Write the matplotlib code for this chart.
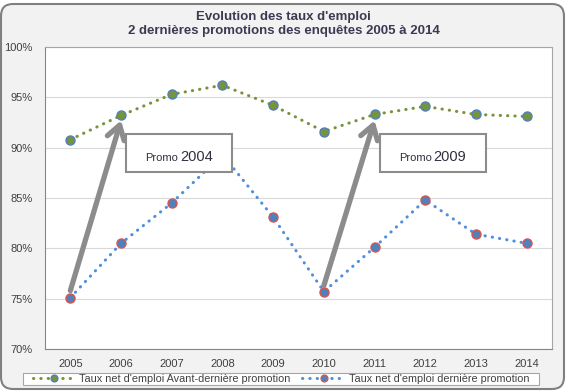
import numpy as np
import matplotlib.pyplot as plt
from matplotlib.patches import FancyBboxPatch, Rectangle
from matplotlib.transforms import IdentityTransform

######### Data ################################
years = [2005, 2006, 2007, 2008, 2009, 2010, 2011, 2012, 2013, 2014]
avant_derniere = [90.8, 93.2, 95.3, 96.2, 94.2, 91.6, 93.3, 94.1, 93.3, 93.1]
derniere = [75.1, 80.5, 84.5, 89.3, 83.1, 75.7, 80.1, 84.8, 81.4, 80.5]
y_ticks = [70, 75, 80, 85, 90, 95, 100]
y_labels = ["%d%%" % v for v in y_ticks]
title = "Evolution des taux d'emploi\n2 dernières promotions des enquêtes 2005 à 2014"
label_avant = "Taux net d'emploi Avant-dernière promotion"
label_der = "Taux net d'emploi dernière promotion"
# promo call-outs : (label, arrow tail year, tail value, head year, head value)
promos = [("2004", 2005, 75.8, 2006, 92.7),
          ("2009", 2010, 76.3, 2011, 92.7)]
###############################################

green = '#77933c'
blue = '#4f8fdf'
dark = '#3c3a52'
arrow_gray = '#8c8c8c'
plt.rcParams['font.family'] = ['Liberation Sans', 'DejaVu Sans']

fig = plt.figure(figsize=(5.7, 3.92), dpi=100, facecolor='white')

# rounded chart frame
frame = FancyBboxPatch((1, 3), 563, 385, boxstyle='round,pad=0,rounding_size=12',
                       transform=IdentityTransform(), facecolor='#f2f2f2',
                       edgecolor='#808080', lw=1.5, zorder=-5)
fig.patches.append(frame)
# legend box
fig.patches.append(Rectangle((23, 7), 516, 12, transform=IdentityTransform(),
                             facecolor='white', edgecolor='#a6a6a6', lw=0.8,
                             zorder=-4))

ax = fig.add_axes([45/570, 1-349/392, (552-45)/570, (349-47)/392])
ax.set_facecolor('white')
ax.set_zorder(1)

dots = (0, (0.1, 2.3))
ax.plot(years, avant_derniere, color=green, lw=2.2, linestyle=dots,
        dash_capstyle='round', marker='o', ms=6.5, mfc=green, mec='#4f81bd',
        mew=1.0, label=label_avant, zorder=4)
ax.plot(years, derniere, color=blue, lw=2.2, linestyle=dots,
        dash_capstyle='round', marker='o', ms=6.5, mfc='#4f81bd', mec='#d9534f',
        mew=1.0, label=label_der, zorder=4)

ax.set_xlim(2004.5, 2014.5)
ax.set_ylim(70, 100)
ax.set_xticks(years)
ax.set_xticklabels([str(y) for y in years], fontsize=8, color='#404040')
ax.set_yticks(y_ticks)
ax.set_yticklabels(y_labels, fontsize=8, color='#404040')
ax.tick_params(length=0)
ax.tick_params(axis='y', pad=9)
ax.tick_params(axis='x', pad=7)
ax.grid(axis='y', color='#d9d9d9', lw=0.8)
ax.set_axisbelow(True)
for side, sp in ax.spines.items():
    sp.set_color('#a6a6a6' if side in ('top', 'right') else '#868686')
    sp.set_linewidth(0.8)

# arrows and boxes
for lab, x0, y0, x1, y1 in promos:
    ax.annotate('', xy=(x1, y1), xytext=(x0, y0),
                arrowprops=dict(arrowstyle='->,head_length=0.7,head_width=0.45',
                                lw=3.8, color=arrow_gray, shrinkA=0, shrinkB=0,
                                mutation_scale=14), zorder=5)
    bx = x1 + 0.1
    ax.add_patch(Rectangle((bx, 87.55), 2.09, 3.85, facecolor='white',
                           edgecolor='#8c8c8c', lw=1.5, zorder=6))
    cx = bx + 1.045
    ax.text(cx - 0.02, 88.65, "Promo", ha='right', va='baseline', fontsize=8,
            color='#303040', zorder=7)
    ax.text(cx + 0.02, 88.65, lab, ha='left', va='baseline', fontsize=10.5,
            color='#303040', zorder=7)

fig.text(283.5/570, 1-24/392, title, ha='center', va='center', fontsize=9.5,
         fontweight='bold', color=dark, linespacing=1.3)

leg = fig.legend(loc='center', bbox_to_anchor=(281/570, 1-379/392), ncol=2,
                 fontsize=7.8, frameon=False,
                 handlelength=3.9, handletextpad=0.37, columnspacing=1.1,
                 borderpad=0.0, markerscale=0.75)
for t in leg.get_texts():
    t.set_color('#404040')

fig.savefig('out.png', dpi=100, facecolor=fig.get_facecolor())
